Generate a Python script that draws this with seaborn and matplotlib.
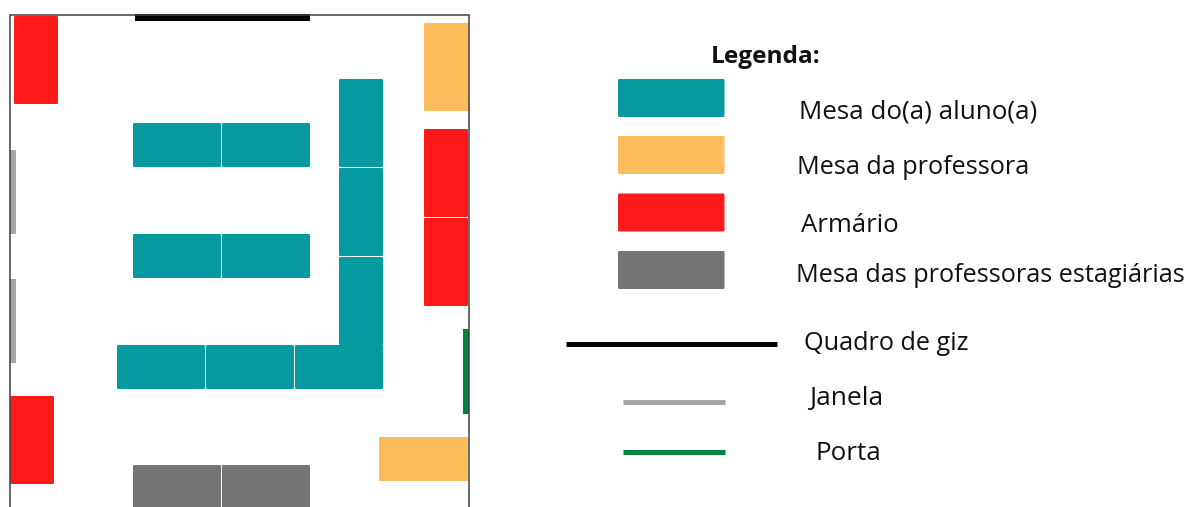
import matplotlib
matplotlib.use("Agg")
import matplotlib.pyplot as plt
from matplotlib.patches import FancyBboxPatch
import pandas as pd
import seaborn as sns

sns.set_theme(style="white")
plt.rcParams['font.family'] = ['Open Sans', 'DejaVu Sans']

# room furniture: left, top, width, height (in picture units)
student_x = [133, 222, 133, 222, 117, 206, 295, 339, 339, 339]
student_y = [123, 123, 234, 234, 345, 345, 345, 79, 168, 257]
student_w = [88, 88, 88, 88, 88, 88, 88, 44, 44, 44]
student_h = [44, 44, 44, 44, 44, 44, 44, 88, 88, 88]
teacher_x = [424, 379]
teacher_y = [23, 437]
teacher_w = [45, 89]
teacher_h = [88, 44]
cupboard_x = [14, 424, 424, 10]
cupboard_y = [16, 129, 218, 396]
cupboard_w = [44, 44, 44, 44]
cupboard_h = [88, 88, 88, 88]
trainee_x = [133, 222]
trainee_y = [465, 465]
trainee_w = [88, 88]
trainee_h = [44, 44]
window_x = [10, 10]
window_y = [150, 279]
window_w = [5.5, 5.5]
window_h = [84, 84]
door_x = [463]
door_y = [329]
door_w = [6]
door_h = [85]
board_x = [135]
board_y = [14]
board_w = [175]
board_h = [6.5]

legend_title = "Legenda:"
legend_box_y = [79, 136, 193.5, 251]
legend_box_h = [38, 38, 38, 38]
legend_box_labels = ["Mesa do(a) aluno(a)", "Mesa da professora", "Armário",
                     "Mesa das professoras estagiárias"]
legend_box_colors = ["#059a9f", "#ffbc5b", "#ff1a1a", "#747474"]
legend_box_text_x = [799, 797, 801, 796]
legend_box_text_y = [112, 168, 225, 276]
legend_box_text_size = [18.7, 18.2, 18.5, 18.2]
legend_line_labels = ["Quadro de giz", "Janela", "Porta"]
legend_line_x0 = [566, 623, 623]
legend_line_x1 = [777, 725, 725]
legend_line_y = [344, 401.5, 452]
legend_line_w = [5, 5, 5]
legend_line_colors = ["#000000", "#a6a6a6", "#00843d"]
legend_line_text_x = [804, 809, 816]
legend_line_text_y = [344, 398, 453]
legend_line_text_size = [18.2, 19, 18.7]


def frame(x, y, w, h, color):
    return pd.DataFrame(dict(x=x, y=y, w=w, h=h, color=color))


furniture = pd.concat([
    frame(student_x, student_y, student_w, student_h, "#059a9f"),
    frame(teacher_x, teacher_y, teacher_w, teacher_h, "#ffbc5b"),
    frame(cupboard_x, cupboard_y, cupboard_w, cupboard_h, "#ff1a1a"),
    frame(trainee_x, trainee_y, trainee_w, trainee_h, "#747474"),
])
walls = pd.concat([
    frame(window_x, window_y, window_w, window_h, "#a6a6a6"),
    frame(door_x, door_y, door_w, door_h, "#00843d"),
    frame(board_x, board_y, board_w, board_h, "#000000"),
])

fig = plt.figure(figsize=(11.91, 5.07), dpi=100)
ax = fig.add_axes([0, 0, 1, 1])
ax.set_xlim(0, 1191)
ax.set_ylim(507, 0)
ax.axis("off")

# room outline
ax.plot([9.5, 9.5, 469, 469], [507, 14.5, 14.5, 507], color="#404040", lw=1.1,
        solid_joinstyle="miter", solid_capstyle="butt", zorder=5)

for r in furniture.itertuples():
    ax.add_patch(FancyBboxPatch((r.x + 1, r.y + 1), r.w - 2, r.h - 2,
                                boxstyle="round,pad=1,rounding_size=1.2",
                                fc=r.color, ec="none", zorder=2))
for r in walls.itertuples():
    ax.barh(r.y + r.h / 2, r.w, height=r.h, left=r.x, color=r.color, lw=0, zorder=3)

for y, h, c in zip(legend_box_y, legend_box_h, legend_box_colors):
    ax.add_patch(FancyBboxPatch((619, y + 1), 104.5, h - 2,
                                boxstyle="round,pad=1,rounding_size=1.2",
                                fc=c, ec="none", zorder=2))
for t, x, y, s in zip(legend_box_labels, legend_box_text_x, legend_box_text_y, legend_box_text_size):
    ax.text(x, y, t, fontsize=s, color="#111111", va="center", ha="left")
for x0, x1, y, w, c in zip(legend_line_x0, legend_line_x1, legend_line_y, legend_line_w, legend_line_colors):
    ax.plot([x0, x1], [y, y], color=c, lw=w * 0.72, solid_capstyle="butt")
for t, x, y, s in zip(legend_line_labels, legend_line_text_x, legend_line_text_y, legend_line_text_size):
    ax.text(x, y, t, fontsize=s, color="#111111", va="center", ha="left")
ax.text(711, 57, legend_title, fontsize=17.6, fontweight="bold", color="#111111", va="center", ha="left")

fig.savefig("out.png", dpi=100)
